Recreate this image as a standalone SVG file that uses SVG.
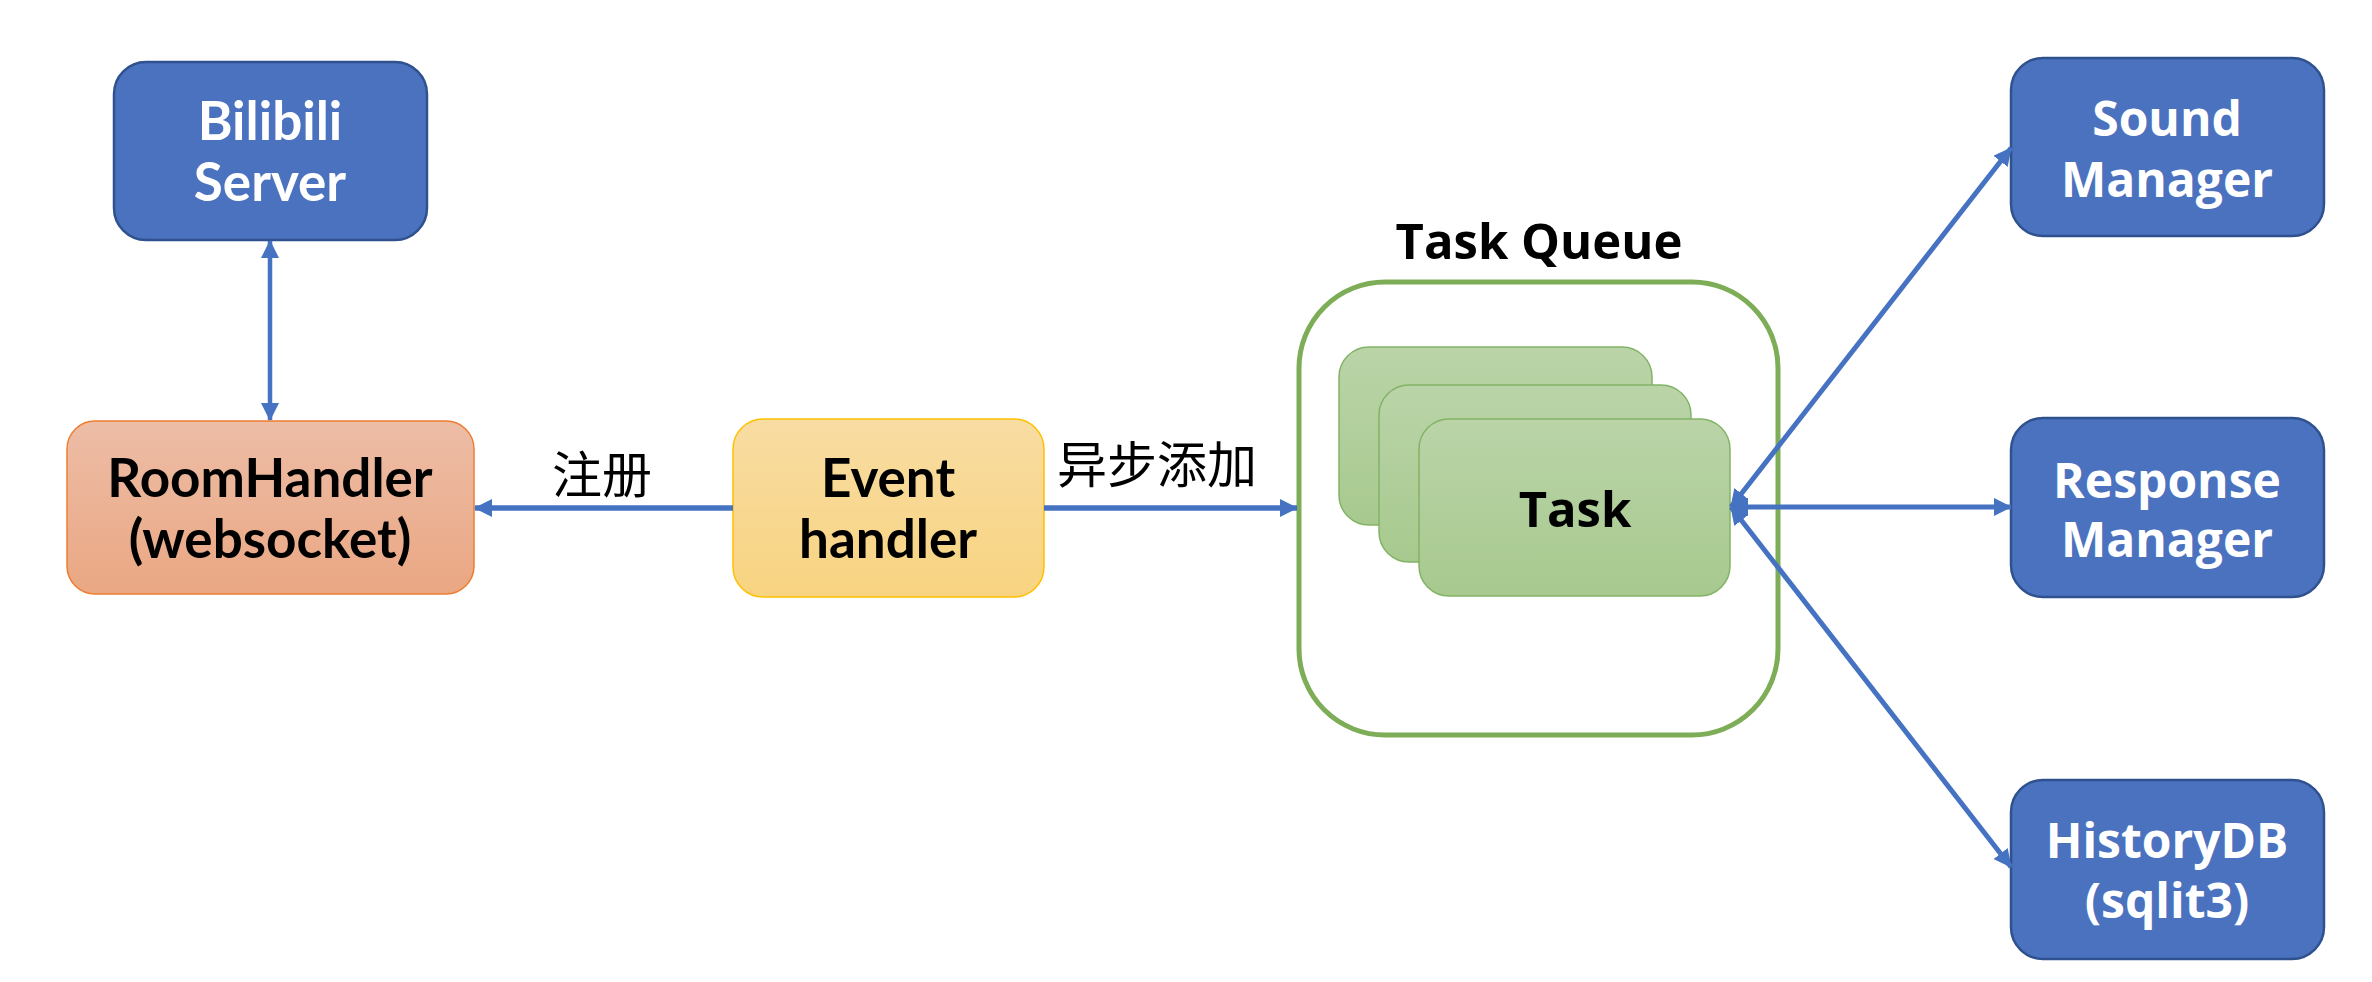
<svg xmlns="http://www.w3.org/2000/svg" width="2372" height="982" viewBox="0 0 2372 982">
<style>
.left{font-family:Lato,"Open Sans","Liberation Sans",sans-serif;font-weight:bold;font-size:53px;text-anchor:middle}
.right{font-family:"Open Sans","Noto Sans","Liberation Sans",sans-serif;font-weight:bold;font-size:48px;text-anchor:middle;fill:#ffffff}
.title{font-family:"Open Sans","Noto Sans","Liberation Sans",sans-serif;font-weight:bold;font-size:49px;text-anchor:middle;fill:#000000}
.cjk{font-family:"Liberation Sans","Noto Sans CJK SC",sans-serif;font-size:50px;fill:#000000}
.blue{fill:#4B72BF;stroke:#2F528F;stroke-width:2.5}
.conn{stroke:#4672C2;fill:none}
</style>
<defs>
<linearGradient id="gOrange" x1="0" y1="0" x2="0" y2="1"><stop offset="0" stop-color="#EDBDA6"/><stop offset="1" stop-color="#EAA783"/></linearGradient>
<linearGradient id="gYellow" x1="0" y1="0" x2="0" y2="1"><stop offset="0" stop-color="#F8DCA2"/><stop offset="1" stop-color="#F8D481"/></linearGradient>
<linearGradient id="gGreen" x1="0" y1="0" x2="0" y2="1"><stop offset="0" stop-color="#BAD4A8"/><stop offset="1" stop-color="#A7C98E"/></linearGradient>
<marker id="ah" viewBox="0 0 18 18" refX="17" refY="9" markerWidth="18" markerHeight="18" markerUnits="userSpaceOnUse" orient="auto-start-reverse"><path d="M0,0 L18,9 L0,18 Z" fill="#4672C2"/></marker>
</defs>

<g id="bilibili-server">
<rect class="blue" x="114" y="62" width="313" height="178" rx="32"/>
<text class="left" x="270" y="140" fill="#ffffff">Bilibili</text>
<text class="left" x="270" y="201" fill="#ffffff">Server</text>
</g>

<g id="room-handler">
<rect x="67" y="421" width="407" height="173" rx="28" fill="url(#gOrange)" stroke="#ED7D31" stroke-width="1.5"/>
<text class="left" x="270" y="497" fill="#000000">RoomHandler</text>
<text class="left" x="270" y="558" fill="#000000">(websocket)</text>
</g>

<g id="event-handler">
<rect x="733" y="419" width="311" height="178" rx="30" fill="url(#gYellow)" stroke="#FFC000" stroke-width="1.5"/>
<text class="left" x="888" y="497" fill="#000000">Event</text>
<text class="left" x="888" y="558" fill="#000000">handler</text>
</g>

<g id="task-queue">
<text class="title" x="1539" y="259">Task Queue</text>
<rect x="1299" y="282" width="479" height="453" rx="86" fill="#ffffff" stroke="#7DAD56" stroke-width="5"/>
</g>

<g id="task-1">
<rect x="1339" y="347" width="313" height="178" rx="30" fill="url(#gGreen)" stroke="#82B366" stroke-width="1.5"/>
</g>
<g id="task-2">
<rect x="1379" y="385" width="312" height="177" rx="30" fill="url(#gGreen)" stroke="#82B366" stroke-width="1.5"/>
</g>
<g id="task-3">
<rect x="1419" y="419" width="311" height="177" rx="30" fill="url(#gGreen)" stroke="#82B366" stroke-width="1.5"/>
<text class="title" x="1575" y="527">Task</text>
</g>

<g id="sound-manager">
<rect class="blue" x="2011" y="58" width="313" height="178" rx="32"/>
<text class="right" x="2167" y="136">Sound</text>
<text class="right" x="2167" y="197">Manager</text>
</g>

<g id="response-manager">
<rect class="blue" x="2011" y="418" width="313" height="179" rx="32"/>
<text class="right" x="2167" y="498">Response</text>
<text class="right" x="2167" y="557">Manager</text>
</g>

<g id="history-db">
<rect class="blue" x="2011" y="780" width="313" height="179" rx="32"/>
<text class="right" x="2167" y="858">HistoryDB</text>
<text class="right" x="2167" y="918">(sqlit3)</text>
</g>

<g id="connectors">
<line class="conn" x1="270" y1="241" x2="270" y2="420" stroke-width="4.5" marker-start="url(#ah)" marker-end="url(#ah)"/>
<line class="conn" x1="733" y1="508" x2="475" y2="508" stroke-width="5.5" marker-end="url(#ah)"/>
<line class="conn" x1="1044" y1="508" x2="1297" y2="508" stroke-width="5.5" marker-end="url(#ah)"/>
<line class="conn" x1="1731" y1="507" x2="2011" y2="148" stroke-width="5" marker-start="url(#ah)" marker-end="url(#ah)"/>
<line class="conn" x1="1731" y1="507" x2="2011" y2="507" stroke-width="5" marker-start="url(#ah)" marker-end="url(#ah)"/>
<line class="conn" x1="1731" y1="507" x2="2011" y2="867" stroke-width="5" marker-start="url(#ah)" marker-end="url(#ah)"/>
<text class="cjk" x="552" y="493">注册</text>
<text class="cjk" x="1057" y="483">异步添加</text>
</g>
</svg>
